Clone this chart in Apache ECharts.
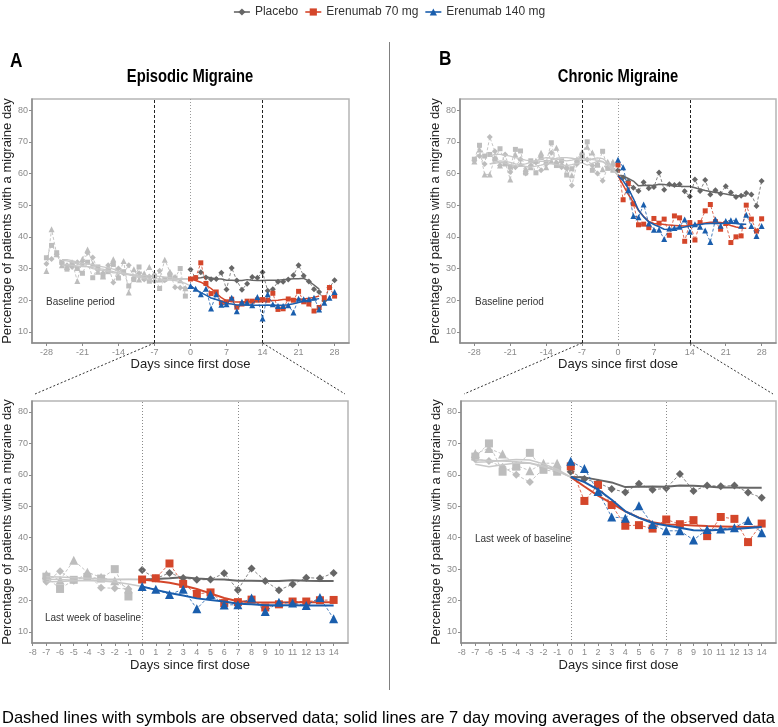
<!DOCTYPE html>
<html><head><meta charset="utf-8">
<script src="https://cdn.jsdelivr.net/npm/echarts@6/dist/echarts.min.js"></script>
<style>html,body{margin:0;padding:0;background:#fff}#c{width:778px;height:727px}</style>
</head><body><div id="c"></div>
<script>
// ---------- x values / ticks ----------
const baseDays = [-28,-27,-26,-25,-24,-23,-22,-21,-20,-19,-18,-17,-16,-15,-14,-13,-12,-11,-10,-9,-8,-7,-6,-5,-4,-3,-2,-1];
const postDays = [0,1,2,3,4,5,6,7,8,9,10,11,12,13,14,15,16,17,18,19,20,21,22,23,24,25,26,27,28];
const baseMADays = [-25,-24,-23,-22,-21,-20,-19,-18,-17,-16,-15,-14,-13,-12,-11,-10,-9,-8,-7,-6,-5,-4,-3,-2,-1,0];
const postMADays = [0,1,2,3,4,5,6,7,8,9,10,11,12,13,14,15,16,17,18,19,20,21,22,23,24,25];
const topXTicks = [-28,-21,-14,-7,0,7,14,21,28];
const bottomXTicks = [-8,-7,-6,-5,-4,-3,-2,-1,0,1,2,3,4,5,6,7,8,9,10,11,12,13,14];
const yTicks = [10,20,30,40,50,60,70,80];

// ---------- Episodic migraine ----------
const emPlaceboBase = [31.5,33.0,34.5,31.8,31.0,30.5,32.0,31.5,35.0,33.5,29.5,28.5,31.0,25.6,30.0,28.5,31.0,27.0,28.5,26.5,27.5,26.0,29.3,26.3,28.5,24.1,23.9,23.7];
const emPlaceboPost = [29.7,27.0,28.8,27.2,26.6,26.7,28.7,23.4,30.2,26.2,23.3,25.2,27.3,27.1,28.8,23.0,23.5,25.8,25.8,26.5,27.9,31.0,27.7,25.9,23.5,22.6,19.8,24.0,26.3];
const em70Base = [33.4,37.3,35.0,31.9,29.8,31.5,30.0,28.5,32.0,27.1,30.5,27.5,29.0,31.3,27.0,29.0,24.5,26.5,30.5,27.0,26.0,27.6,23.7,26.6,27.5,27.0,30.0,21.3];
const em70Post = [26.7,27.1,31.8,25.3,22.1,22.6,19.2,19.5,20.3,17.8,18.8,19.7,19.7,20.1,20.2,20.0,22.2,17.1,17.3,20.4,20.0,22.8,19.5,18.8,16.6,17.7,20.8,24.0,21.3];
const em140Base = [29.2,42.4,34.5,31.0,30.5,32.0,26.1,33.0,36.0,31.5,29.0,27.5,30.5,32.9,27.5,32.4,22.4,29.8,26.5,28.5,30.5,28.3,26.5,32.8,29.0,27.4,26.3,23.8];
const em140Post = [24.5,23.6,21.9,23.6,17.4,21.9,18.6,18.7,20.8,16.5,19.5,19.2,18.4,21.0,14.2,21.9,18.7,18.2,18.2,18.4,16.1,20.5,20.3,20.3,20.8,17.1,19.2,20.8,22.6];
const emPlaceboBaseMA = [31.0,31.2,31.0,30.8,30.6,30.6,30.3,30.0,29.8,29.4,29.0,28.6,28.3,28.0,27.6,27.2,26.8,26.4,26.0,26.1,26.3,26.4,26.5,26.6,26.7,26.7];
const em70BaseMA = [32.6,32.4,32.0,31.5,31.0,30.6,30.0,29.6,29.4,29.0,28.6,28.6,28.4,28.2,28.0,27.8,27.8,27.7,27.6,27.5,27.3,27.1,26.9,26.8,26.8,26.7];
const em140BaseMA = [32.8,32.8,32.5,32.0,31.6,31.5,31.2,30.8,30.5,30.2,29.8,29.2,28.6,28.2,28.0,27.5,27.2,27.0,26.8,26.7,26.5,26.4,26.2,25.9,25.3,24.5];
const emPlaceboPostMA = [26.7,26.9,27.1,27.4,27.0,26.8,26.7,26.3,26.3,26.2,26.2,26.5,26.3,26.2,26.2,26.3,26.3,26.3,26.5,26.6,26.8,26.8,26.9,26.0,24.8,23.5];
const em70PostMA = [26.7,26.2,25.7,24.8,23.7,22.3,20.8,19.8,19.5,19.4,19.4,19.5,19.5,19.5,19.5,19.8,19.9,20.0,20.2,20.3,20.3,20.2,20.4,20.6,20.9,21.3];
const em140PostMA = [24.5,23.4,22.4,21.6,20.7,20.2,19.7,19.0,18.8,18.5,18.5,18.5,18.4,18.4,18.4,18.5,18.4,18.4,18.4,18.6,18.9,19.3,19.7,20.0,20.2,20.5];

// ---------- Chronic migraine ----------
const cmPlaceboBase = [64.2,65.5,63.0,71.5,67.0,62.5,66.0,60.5,62.0,64.5,60.0,62.5,63.5,61.0,63.0,66.5,63.5,62.0,61.5,56.2,63.0,65.0,64.4,62.5,60.0,57.7,62.0,62.6];
const cmPlaceboPost = [61.0,58.7,57.5,55.5,54.5,57.2,55.3,55.7,60.3,54.9,56.6,56.4,56.6,54.4,52.7,58.1,54.5,57.9,53.4,54.7,53.6,56.0,54.0,52.6,53.0,53.8,53.4,49.7,57.6];
const cm70Base = [64.5,68.9,65.5,66.0,64.5,67.8,63.0,62.0,67.6,67.1,60.2,64.0,60.2,65.0,63.5,69.7,62.5,64.0,59.5,61.5,64.0,65.8,70.0,61.0,62.6,67.0,61.6,61.0];
const cm70Post = [62.7,51.7,56.8,50.4,43.8,44.0,42.9,45.8,44.3,45.6,40.5,46.6,46.0,38.6,44.5,39.0,44.5,48.2,50.2,44.8,42.4,44.2,38.2,40.0,40.3,50.0,45.6,41.8,45.7];
const cm140Base = [63.8,67.6,59.7,59.7,65.0,62.5,63.5,58.1,66.0,63.0,61.5,62.0,64.0,66.5,62.0,64.0,68.1,63.0,62.5,59.4,64.5,66.8,68.4,66.6,63.0,61.3,63.7,63.7];
const cm140Post = [64.3,62.0,54.7,46.6,46.2,50.2,44.2,42.2,42.2,39.3,42.6,42.8,43.2,45.5,41.6,44.0,43.2,42.0,38.4,45.5,43.5,45.0,45.2,45.2,43.5,47.0,43.4,40.3,43.4];
const cmPlaceboBaseMA = [63.0,63.2,63.5,63.3,62.8,62.5,62.3,62.2,62.0,62.3,62.6,63.0,63.0,62.8,62.6,62.5,62.8,63.2,63.4,62.6,63.2,63.8,63.7,62.6,61.2,59.3];
const cm70BaseMA = [65.5,66.0,66.0,65.8,65.5,65.0,64.6,64.2,64.0,64.0,63.8,63.8,64.2,64.8,65.0,65.0,64.8,64.5,64.0,64.2,64.6,64.9,64.7,63.5,61.8,59.3];
const cm140BaseMA = [63.0,63.5,64.0,63.8,63.5,63.0,62.8,63.0,63.5,64.0,64.6,65.0,64.8,64.5,64.2,64.0,64.2,64.6,64.8,64.6,64.4,64.2,63.8,62.8,61.3,59.3];
const cmPlaceboPostMA = [59.3,59.2,58.4,57.6,56.1,56.2,56.3,56.2,56.6,56.5,56.3,56.0,56.0,55.9,55.9,55.5,55.0,54.6,54.3,54.0,53.8,53.5,53.2,53.0,53.0,52.9];
const cm70PostMA = [59.3,56.3,53.4,50.9,48.4,46.4,44.9,44.2,44.1,43.9,43.7,43.6,43.5,43.4,43.6,43.8,44.1,44.4,44.6,44.6,44.5,44.2,43.6,43.1,42.8,42.7];
const cm140PostMA = [59.3,57.7,55.3,52.1,48.4,46.3,44.7,43.9,43.2,42.4,42.3,42.5,42.8,43.1,43.4,43.7,43.9,44.1,44.2,44.2,44.2,44.3,44.3,44.2,44.0,44.0];

const groupNames = ['Placebo','Erenumab 70 mg','Erenumab 140 mg'];

// ---------- styling ----------
const FONT = "'Liberation Sans', Arial, sans-serif";
const COLORS = ['#666666', '#d4462a', '#1a5ead'];
const SYMBOLS = ['diamond', 'rect', 'triangle'];
const BASE_COLOR = '#bdbdbd';

const datasets = {
  em: {
    base: [emPlaceboBase, em70Base, em140Base],
    post: [emPlaceboPost, em70Post, em140Post],
    baseMA: [emPlaceboBaseMA, em70BaseMA, em140BaseMA],
    postMA: [emPlaceboPostMA, em70PostMA, em140PostMA]
  },
  cm: {
    base: [cmPlaceboBase, cm70Base, cm140Base],
    post: [cmPlaceboPost, cm70Post, cm140Post],
    baseMA: [cmPlaceboBaseMA, cm70BaseMA, cm140BaseMA],
    postMA: [cmPlaceboPostMA, cm70PostMA, cm140PostMA]
  }
};

const panels = [
  {key:'em', top:true, lo:-28, hi:28, grid:{left:32, top:99, width:317, height:244}, nameGap:16},
  {key:'cm', top:true, lo:-28, hi:28, grid:{left:460, top:99, width:316, height:244}, nameGap:15},
  {key:'em', top:false, lo:-7, hi:14, grid:{left:32, top:401, width:316, height:242}, nameGap:16},
  {key:'cm', top:false, lo:-7, hi:14, grid:{left:461, top:401, width:315, height:242}, nameGap:15}
];

function zip(days, vals) { return days.map((d, i) => [d, vals[i]]); }
function clip(pairs, lo, hi) { return pairs.filter(p => p[0] >= lo && p[0] <= hi); }

const grids = [], xAxes = [], yAxes = [], series = [];
panels.forEach((p, i) => {
  grids.push(Object.assign({show:true, borderColor:'#b5b5b5', borderWidth:1.5, backgroundColor:'transparent'}, p.grid));
  const xmin = p.top ? -30.8 : -8.05, xmax = p.top ? 30.8 : 15.05;
  const ticks = p.top ? topXTicks : bottomXTicks;
  xAxes.push({
    type:'value', gridIndex:i, min:xmin, max:xmax,
    axisLine:{show:true, onZero:false, lineStyle:{color:'#8a8a8a', width:1.5}},
    axisTick:{show:true, customValues:ticks, length:3, lineStyle:{color:'#8a8a8a'}},
    axisLabel:{customValues:ticks, color:'#8a8a8a', fontSize:9, margin:5, fontFamily:FONT},
    splitLine:{show:false},
    name:'Days since first dose', nameLocation:'middle', nameGap:p.top ? 14 : 16,
    nameTextStyle:{fontSize:13, color:'#222', fontFamily:FONT, verticalAlign:'top'}
  });
  yAxes.push({
    type:'value', gridIndex:i, min:6.5, max:83.5,
    axisLine:{show:true, onZero:false, lineStyle:{color:'#8a8a8a', width:1.5}},
    axisTick:{show:true, customValues:yTicks, length:3, lineStyle:{color:'#8a8a8a'}},
    axisLabel:{customValues:yTicks, color:'#8a8a8a', fontSize:9, margin:4, fontFamily:FONT},
    splitLine:{show:false},
    name:'Percentage of patients with a migraine day', nameLocation:'middle', nameGap:p.nameGap,
    nameTextStyle:{fontSize:13, color:'#222', fontFamily:FONT}
  });
  const d = datasets[p.key];
  const symSize = p.top ? [6, 5, 6] : [8, 8, 9];
  const markLines = p.top ? [
    {xAxis:-7, lineStyle:{color:'#222', type:[3,2], width:1}},
    {xAxis:0, lineStyle:{color:'#9a9a9a', type:[1,2], width:1}},
    {xAxis:14, lineStyle:{color:'#222', type:[3,2], width:1}}
  ] : [
    {xAxis:0, lineStyle:{color:'#8a8a8a', type:[1,2], width:1}},
    {xAxis:7, lineStyle:{color:'#8a8a8a', type:[1,2], width:1}}
  ];
  for (let g = 0; g < 3; g++) {
    const s = {
      type:'line', name:groupNames[g] + ' baseline', xAxisIndex:i, yAxisIndex:i,
      data:clip(zip(baseDays, d.base[g]), p.lo, p.hi),
      symbol:SYMBOLS[g], symbolSize:symSize[g], showSymbol:true,
      itemStyle:{color:BASE_COLOR}, lineStyle:{color:'#c6c6c6', width:1, type:[3,2]},
      z:2, animation:false, silent:true
    };
    if (g === 0) s.markLine = {silent:true, symbol:'none', label:{show:false}, data:markLines, animation:false};
    series.push(s);
    series.push({
      type:'line', name:groupNames[g] + ' baseline MA', xAxisIndex:i, yAxisIndex:i,
      data:clip(zip(baseMADays, d.baseMA[g]), p.lo, p.hi),
      symbol:'none', showSymbol:false, lineStyle:{color:'#c8c8c8', width:p.top ? 1.3 : 1.5},
      z:3, animation:false, silent:true
    });
  }
  for (let g = 0; g < 3; g++) {
    series.push({
      type:'line', name:groupNames[g], xAxisIndex:i, yAxisIndex:i,
      data:clip(zip(postDays, d.post[g]), p.lo, p.hi),
      symbol:SYMBOLS[g], symbolSize:symSize[g], showSymbol:true,
      itemStyle:{color:COLORS[g]}, lineStyle:{color:COLORS[g], width:1, type:[3,2], opacity:0.8},
      z:4 + g, animation:false, silent:true
    });
    series.push({
      type:'line', name:groupNames[g] + ' MA', xAxisIndex:i, yAxisIndex:i,
      data:clip(zip(postMADays, d.postMA[g]), p.lo, p.hi),
      symbol:'none', showSymbol:false, lineStyle:{color:COLORS[g], width:p.top ? 1.5 : 2},
      z:4 + g, animation:false, silent:true
    });
  }
});

const chart = echarts.init(document.getElementById('c'), null, {renderer:'canvas'});
chart.setOption({
  backgroundColor:'#fff',
  animation:false,
  grid:grids, xAxis:xAxes, yAxis:yAxes, series:series,
  legend:{
    data:groupNames, top:1, left:'center', itemWidth:16, itemHeight:9, itemGap:6,
    textStyle:{fontSize:12, color:'#333', fontFamily:FONT},
    lineStyle:{type:'solid', width:2}
  }
});

// connectors between zoom regions, derived from axes
const t1 = chart.convertToPixel({gridIndex:0}, [-7, 6.5]);
const t2 = chart.convertToPixel({gridIndex:0}, [14, 6.5]);
const b1 = chart.convertToPixel({gridIndex:2}, [-8.05, 83.5]);
const b2 = chart.convertToPixel({gridIndex:2}, [15.05, 83.5]);
const t3 = chart.convertToPixel({gridIndex:1}, [-7, 6.5]);
const t4 = chart.convertToPixel({gridIndex:1}, [14, 6.5]);
const b3 = chart.convertToPixel({gridIndex:3}, [-8.05, 83.5]);
const b4 = chart.convertToPixel({gridIndex:3}, [15.05, 83.5]);
function conn(a, b) {
  return {type:'line', shape:{x1:a[0], y1:a[1], x2:b[0] + (b[0] < a[0] ? 3 : -3), y2:b[1] - 7},
    style:{stroke:'#333', lineWidth:1, lineDash:[2,2]}, silent:true, z:10};
}
const txt = (x, y, s, size, extra, sx) => ({type:'text', x:x, y:y, silent:true, z:10, scaleX:sx || 1,
  style:Object.assign({text:s, fontSize:size, fill:'#222', fontFamily:FONT}, extra || {})});

// condensed look: measure and squeeze the footnote to the reference width
const FOOT = 'Dashed lines with symbols are observed data; solid lines are 7 day moving averages of the observed data';
const cv = document.createElement('canvas').getContext('2d');
cv.font = "17px 'Liberation Sans', Arial, sans-serif";
const footScale = 773 / cv.measureText(FOOT).width;
const NARROW = 0.82;

chart.setOption({graphic:{elements:[
  conn(t1, b1), conn(t2, b2), conn(t3, b3), conn(t4, b4),
  {type:'line', shape:{x1:389.5, y1:42, x2:389.5, y2:690}, style:{stroke:'#808080', lineWidth:1}, silent:true},
  txt(10, 51, 'A', 21, {fontWeight:'bold', fill:'#000'}, NARROW),
  txt(439, 49, 'B', 21, {fontWeight:'bold', fill:'#000'}, NARROW),
  txt(190, 77, 'Episodic Migraine', 18, {fontWeight:'bold', fill:'#000', align:'center', verticalAlign:'middle'}, NARROW),
  txt(618, 77, 'Chronic Migraine', 18, {fontWeight:'bold', fill:'#000', align:'center', verticalAlign:'middle'}, NARROW),
  txt(46, 302, 'Baseline period', 10, {verticalAlign:'middle', fill:'#333'}),
  txt(475, 302, 'Baseline period', 10, {verticalAlign:'middle', fill:'#333'}),
  txt(45, 618, 'Last week of baseline', 10, {verticalAlign:'middle', fill:'#333'}),
  txt(475, 539, 'Last week of baseline', 10, {verticalAlign:'middle', fill:'#333'}),
  txt(2, 718, FOOT, 17, {verticalAlign:'middle', fill:'#000'}, footScale)
]}});
</script></body></html>
